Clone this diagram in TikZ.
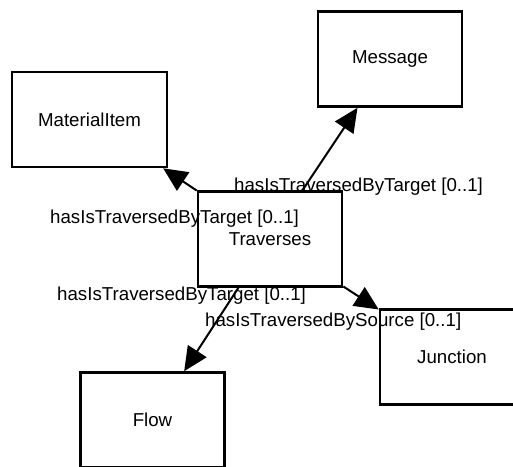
\documentclass[tikz,border=0pt]{standalone}
\usepackage{fontspec}
\setmainfont{Liberation Sans}
\usetikzlibrary{arrows.meta}

\begin{document}
\begin{tikzpicture}[
    x=1pt, y=-1pt,
    font=\fontsize{18.7}{22}\selectfont,
    every node/.style={align=center},
    box/.style={
        rectangle,
        draw=black,
        line width=2.6pt,
        minimum width=144pt,
        minimum height=95pt,
        inner sep=4pt
    },
    link/.style={draw, line width=2pt, -{Triangle[length=24pt,width=22pt]}},
    role/.style={anchor=base west, inner sep=0pt},
]

% Frame
\useasboundingbox (0,0) rectangle (513,466);
\clip (0,0) rectangle (513,466);

% Centre node
\node[box] (trav) at (270,239) {Traverses};

% Ends
\node[box, minimum width=155pt] (mat) at (89.5,119.5) {MaterialItem};
\node[box] (msg)  at (390,59)  {Message};
\node[box] (junc) at (452,357) {Junction};
\node[box] (flow) at (152.5,420) {Flow};

% Connections
\draw[link] (trav) -- (mat);
\draw[link] (trav) -- (msg);
\draw[link] (trav) -- (junc);
\draw[link] (trav) -- (flow);

% Role labels
\node[role] (msgrole)  at (234,191) {hasIsTraversedByTarget [0..1]};
\node[role] (matrole)  at (50,223)  {hasIsTraversedByTarget [0..1]};
\node[role] (flowrole) at (57,300)  {hasIsTraversedByTarget [0..1]};
\node[role] (juncrole) at (205,326) {hasIsTraversedBySource [0..1]};

\end{tikzpicture}
\end{document}
